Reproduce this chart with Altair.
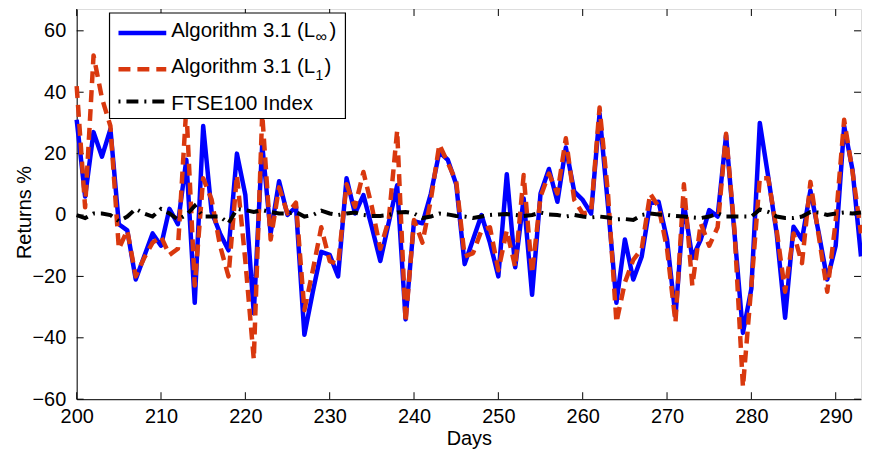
import altair as alt
import pandas as pd

# ---------------- data ----------------
days = list(range(200, 294))

linf = [31, 6, 27, 19, 28, -3, -5, -21, -13.5, -6,
        -10, 2, -3, 18, -28.6, 29, 1, -6, -11.5, 20,
        6.5, -32, 23, -6, 11, 0, 2.7, -39, -25, -12,
        -13, -20, 12, 0.5, 6.5, -4, -15, -2.5, 9.7, -34,
        -2, -2.7, 7, 20.5, 18, 10, -16, -8, 0, -9,
        -20, 13.3, -17, 5.4, -26, 7, 15, 4.3, 22, 7.6,
        4.9, 0.5, 33, 3, -28.6, -8, -21, -13.5, 3.8, 4.3,
        -8, -33, 3.8, -14, -8, 1.6, -0.5, 26, -6, -38.4,
        -24, 30, 12.4, -6, -33.5, -3.8, -8, 8, -6, -21,
        -10, 29, 14.6, -13.5]

l1 = [42, 2.5, 52, 38, 29, -11, -5, -20, -14, -9,
      -7, -13, -11, 35, -23, 12, 5, -10, -20, 13,
      -15, -47, 33, -8, 9, 0.5, 4, -31, -18, -4,
      -15, -16, 10, 2.7, 14, 2.7, -11, -1.6, 27.5, -35,
      -1.6, -9, 5, 23, 17, 11, -13.5, -12.4, -5, -4,
      -18, -5, -17, 13, -19, 6, 13.5, 7, 25, 4.9,
      0.5, 1, 35, 7, -35, -22, -14.6, -11, 7, 2.7,
      -11, -35, 10, -23, -2.7, -10, -4, 26.5, -5, -56,
      -23, 12, 12, -5, -25, -6, -15.7, 10.8, -7, -25,
      -2, 31, 14, -6]

ftse = [0, -1, 0.5, 0.5, 0, -2, -0.5, 2, 0.5, -0.5,
        2, 0.5, -1.5, 0, 3, -0.5, -0.5, -0.5, -2.7, 2,
        1.6, 1, 1.6, 1, 0.5, 0.5, 1, -0.5, 0, 1.4,
        0.5, 0, 0.5, 0.8, 0, -0.3, -0.3, 0, 0.8, 1,
        0.5, -1, -0.5, 0.5, 0.2, -0.3, -0.5, -1, -0.5, 0,
        0.2, 0.3, 0, -0.3, 0, 0.8, 0.2, 0, -0.5, 0,
        -0.5, -0.8, -0.5, -0.8, -1.4, -1.3, -1.6, 0, 0.5, 0.2,
        0, -0.3, -0.5, -0.8, -1, -0.5, 0.5, -0.5, -0.5, -0.5,
        -0.5, 1.8, 1, -0.5, -1, -1, -0.5, 1, 0.8, 0,
        0.5, 0.8, 0.5, 0.8]

xticks = list(range(200, 291, 10))
yticks = list(range(-60, 61, 20))

series_names = ["Algorithm 3.1 (L", "FTSE100 Index"]

# ---------------- styling ----------------
FONT = "Liberation Sans"
W, H = 788, 392
BLUE = "#0000ff"
RED = "#d9380e"
BLACK = "#000000"

df = pd.DataFrame({"day": days, "linf": linf, "l1": l1, "ftse": ftse})
xt = pd.DataFrame({"t": xticks})
yt = pd.DataFrame({"t": yticks})
one = pd.DataFrame({"k": [0]})

xscale = alt.Scale(domain=[200, 293], nice=False, zero=False)
yscale = alt.Scale(domain=[-60, 67.1], nice=False, zero=False)

xaxis = alt.Axis(values=xticks, title="Days", ticks=False, tickSize=0, grid=False,
                 labelFontSize=20, labelPadding=7, labelFlush=False, format="d",
                 titleFontSize=20, titleFontWeight="normal", titlePadding=3,
                 domainColor=BLACK, labelColor=BLACK, titleColor=BLACK,
                 labelFont=FONT, titleFont=FONT)
yaxis = alt.Axis(values=yticks, title="Returns %", ticks=False, tickSize=0, grid=False,
                 labelFontSize=20, labelPadding=11, format="d",
                 titleFontSize=20, titleFontWeight="normal",
                 titleAngle=270, titleX=-52, titleY=204, titleAlign="center",
                 titleBaseline="middle",
                 domainColor=BLACK, labelColor=BLACK, titleColor=BLACK,
                 labelFont=FONT, titleFont=FONT)

X = alt.X("day:Q", scale=xscale, axis=xaxis)

# inward tick marks on all four sides
tick_bottom = alt.Chart(xt).mark_rule(color=BLACK, strokeWidth=1).encode(
    x=alt.X("t:Q", scale=xscale, axis=xaxis), y=alt.value(H), y2=alt.value(H - 7))
tick_top = alt.Chart(xt).mark_rule(color=BLACK, strokeWidth=1).encode(
    x=alt.X("t:Q", scale=xscale, axis=xaxis), y=alt.value(0), y2=alt.value(7))
tick_left = alt.Chart(yt).mark_rule(color=BLACK, strokeWidth=1).encode(
    y=alt.Y("t:Q", scale=yscale, axis=yaxis), x=alt.value(0), x2=alt.value(7))
tick_right = alt.Chart(yt).mark_rule(color=BLACK, strokeWidth=1).encode(
    y=alt.Y("t:Q", scale=yscale, axis=yaxis), x=alt.value(W), x2=alt.value(W - 7))

blue = alt.Chart(df).mark_line(color=BLUE, strokeWidth=4.5, strokeJoin="round").encode(
    x=X, y=alt.Y("linf:Q", scale=yscale, axis=yaxis))
red = alt.Chart(df).mark_line(color=RED, strokeWidth=4.5, strokeDash=[12, 7],
                              strokeJoin="round").encode(
    x=X, y=alt.Y("l1:Q", scale=yscale, axis=yaxis))
black = alt.Chart(df).mark_line(color=BLACK, strokeWidth=4, strokeDash=[12, 6, 2, 6]).encode(
    x=X, y=alt.Y("ftse:Q", scale=yscale, axis=yaxis))

# ---------------- legend (drawn by hand) ----------------
LX0, LX1, LY0, LY1 = 33, 270, 4, 110
box = alt.Chart(one).mark_rect(fill="white", stroke=BLACK, strokeWidth=1.2).encode(
    x=alt.value(LX0), x2=alt.value(LX1), y=alt.value(LY0), y2=alt.value(LY1))

rows_y = [24, 60.5, 93]
base_y = [28, 64.7, 101]
sx0, sx1, tx = 42, 90, 95

leg_blue = alt.Chart(one).mark_rule(color=BLUE, strokeWidth=4.5).encode(
    x=alt.value(sx0), x2=alt.value(sx1), y=alt.value(rows_y[0]))
leg_red = alt.Chart(one).mark_rule(color=RED, strokeWidth=4.5, strokeDash=[12, 7]).encode(
    x=alt.value(sx0), x2=alt.value(sx1), y=alt.value(rows_y[1]))
leg_black = alt.Chart(one).mark_rule(color=BLACK, strokeWidth=4, strokeDash=[2, 6, 12, 6]).encode(
    x=alt.value(sx0), x2=alt.value(sx1), y=alt.value(rows_y[2]))


def txt(s, x, y, size=20.5):
    return alt.Chart(one).mark_text(text=s, align="left", baseline="alphabetic",
                                    font=FONT, fontSize=size, color=BLACK).encode(
        x=alt.value(x), y=alt.value(y))


legend_texts = [
    txt(series_names[0], tx, base_y[0]),
    txt("\u221e", 240, base_y[0] + 5, 16),
    txt(")", 254, base_y[0]),
    txt(series_names[0], tx, base_y[1]),
    txt("1", 240, base_y[1] + 7, 14),
    txt(")", 249, base_y[1]),
    txt(series_names[1], tx, base_y[2]),
]

chart = alt.layer(
    tick_bottom, tick_top, tick_left, tick_right,
    blue, red, black,
    box, leg_blue, leg_red, leg_black, *legend_texts
).properties(
    width=W, height=H,
    autosize=alt.AutoSizeParams(type="none"),
    padding={"left": 69, "top": 0, "right": 1, "bottom": 49},
).configure_view(
    stroke=BLACK, strokeWidth=1
).configure(font=FONT, background="white")

chart.save("out.html", embed_options={"renderer": "svg", "actions": False})
